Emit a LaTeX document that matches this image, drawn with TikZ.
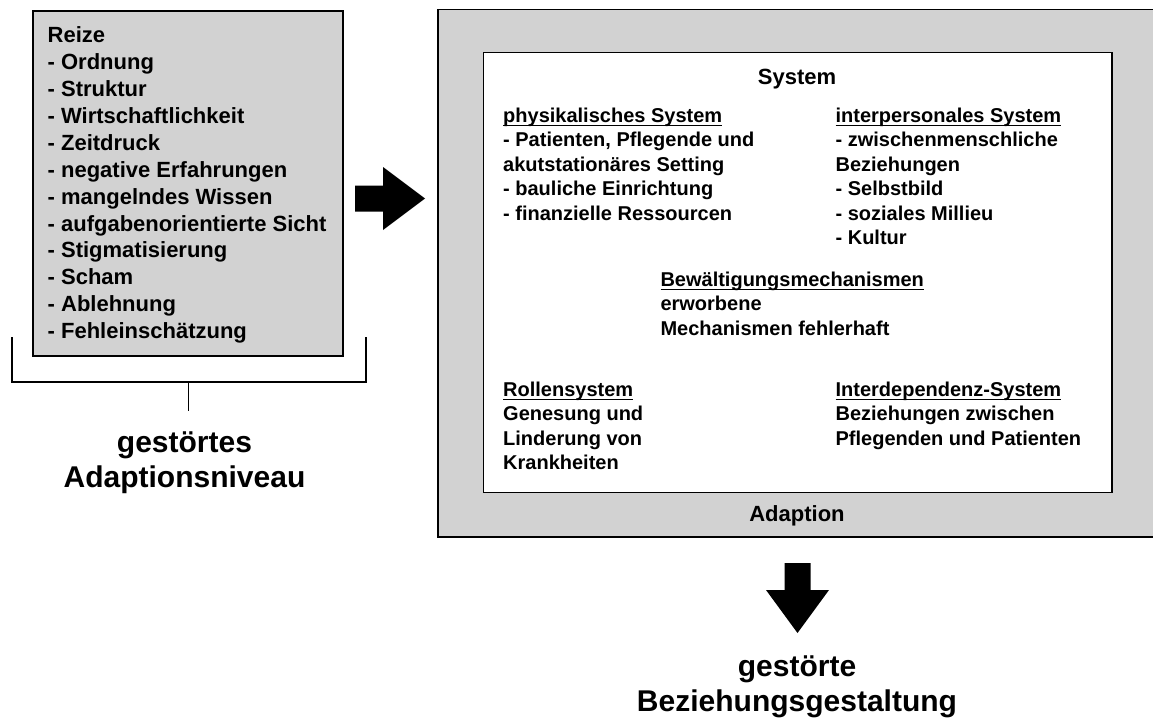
\documentclass[tikz,border=0pt]{standalone}
\usepackage{fontspec}
\setmainfont{Liberation Sans}
\definecolor{boxgray}{RGB}{210,210,210}
\newsavebox\ulbox
\newcommand\myul[1]{\sbox\ulbox{#1}\rlap{\rule[-4.2pt]{\wd\ulbox}{1.5pt}}\usebox\ulbox}
\begin{document}
\begin{tikzpicture}[x=1pt,y=-1pt,
  every node/.style={inner sep=0pt, outer sep=0pt},
  lefttext/.style={anchor=base west, align=left, font=\fontsize{22}{26.9}\selectfont\bfseries},
  innertext/.style={anchor=base west, align=left, font=\fontsize{20}{24.5}\selectfont\bfseries},
  centertext/.style={anchor=base, align=center, font=\fontsize{22}{26}\selectfont\bfseries},
  bigtext/.style={anchor=base, align=center, font=\fontsize{30}{35}\selectfont\bfseries},
  graybox/.style={fill=boxgray},
  boxline/.style={draw=black, line width=1.6pt},
  bracketline/.style={line width=1.2pt},
  blockarrow/.style={fill=black}]
\useasboundingbox (0,0) rectangle (1153,720);

% left box (multi-line nodes are placed at the baseline of their last line)
\node[graybox, boxline, minimum width=310pt, minimum height=345pt] (reize) at (188,183.5) {};
\node[lefttext] (reizetext) at (47.7,338.6) {Reize\\- Ordnung\\- Struktur\\- Wirtschaftlichkeit\\- Zeitdruck\\- negative Erfahrungen\\- mangelndes Wissen\\- aufgabenorientierte Sicht\\- Stigmatisierung\\- Scham\\- Ablehnung\\- Fehleinschätzung};

% bracket
\coordinate (bl1) at (12,337);
\coordinate (bl2) at (12,382);
\coordinate (br2) at (366,382);
\coordinate (br1) at (366,337);
\coordinate (sm) at (188.5,382);
\coordinate (st) at (188.5,411);
\draw[bracketline] (bl1) -- (bl2) -- (br2) -- (br1);
\draw[bracketline] (sm) -- (st);
\node[bigtext] (niveau) at (184.5,487.5) {gestörtes\\Adaptionsniveau};

% right arrow
\coordinate (ra) at (355,185.5);
\fill[blockarrow] (ra) -- ++(28,0) -- ++(0,-18.5) -- ++(42,31.5) -- ++(-42,31.5) -- ++(0,-18.5) -- ++(-28,0) -- cycle;

% outer box
\node[graybox, minimum width=715.3pt, minimum height=527.2pt] (outer) at (795.35,273.1) {};
\draw[boxline] (outer.north east) -- (outer.north west) -- (outer.south west) -- (outer.south east);
\node[centertext] (adaption) at (797,521.6) {Adaption};

% inner box
\node[fill=white, boxline, minimum width=628.4pt, minimum height=440pt] (inner) at (797.5,272.3) {};
\node[centertext] (system) at (797,84.5) {System};
\node[innertext] (phys) at (503.2,220) {\myul{physikalisches System}\\- Patienten, Pflegende und\\akutstationäres Setting\\- bauliche Einrichtung\\- finanzielle Ressourcen};
\node[innertext] (inter) at (835.6,244.5) {\myul{interpersonales System}\\- zwischenmenschliche\\Beziehungen\\- Selbstbild\\- soziales Millieu\\- Kultur};
\node[innertext] (bew) at (660.5,335) {\myul{Bewältigungsmechanismen}\\erworbene\\Mechanismen fehlerhaft};
\node[innertext] (rolle) at (503.2,469.5) {\myul{Rollensystem}\\Genesung und\\Linderung von\\Krankheiten};
\node[innertext] (interdep) at (835.6,445) {\myul{Interdependenz-System}\\Beziehungen zwischen\\Pflegenden und Patienten};

% down arrow
\coordinate (da) at (784.5,563);
\fill[blockarrow] (da) -- ++(26,0) -- ++(0,27) -- ++(18.5,0) -- ++(-31.5,43) -- ++(-31.5,-43) -- ++(18.5,0) -- cycle;
\node[bigtext] (bezieh) at (797,711.5) {gestörte\\Beziehungsgestaltung};
\end{tikzpicture}
\end{document}
